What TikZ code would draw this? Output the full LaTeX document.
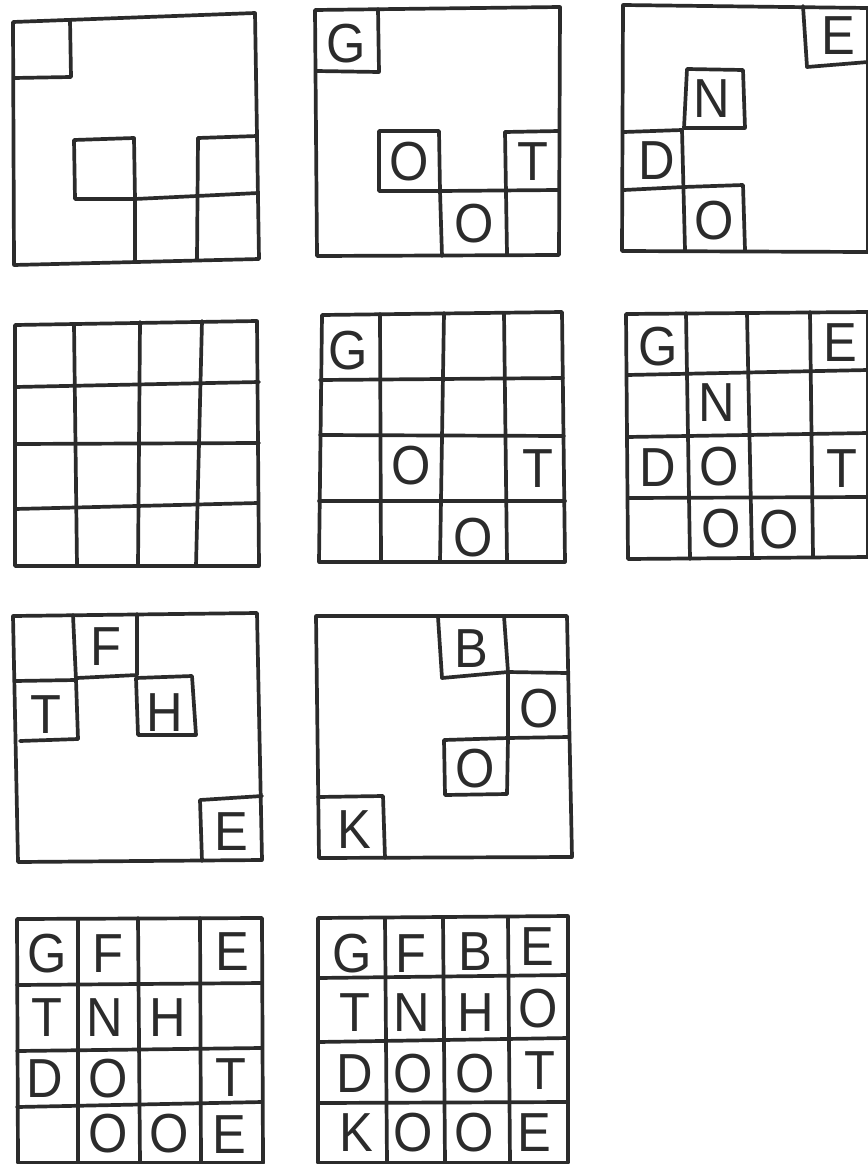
\documentclass[tikz,border=0pt]{standalone}
\usepackage{fontspec}
\setmainfont{Liberation Sans}[FakeStretch=0.92]
\definecolor{ink}{HTML}{2B2B2B}
\begin{document}
\begin{tikzpicture}[x=1pt,y=-1pt,
  gridline/.style={draw=ink,line width=3.7pt,line cap=round,line join=round},
  letter/.style={text=ink,inner sep=0pt,font=\fontsize{55}{55}\selectfont,text height=39pt,text depth=0pt,anchor=center}]
\useasboundingbox (0,0) rectangle (867,1164);

% ---------- Grid A ----------
\draw[gridline] (13,22) -- (255,13) -- (259,259) -- (14,265) -- cycle;
\draw[gridline] (70,20) -- (71,77) -- (14,78);
\draw[gridline] (74,140) -- (134,138) -- (135,199) -- (75,199) -- cycle;
\draw[gridline] (135,199) -- (135,261);
\draw[gridline] (135,199) -- (197,196) -- (258,193);
\draw[gridline] (198,138) -- (197,259);
\draw[gridline] (198,138) -- (257,136);

% ---------- Grid B ----------
\draw[gridline] (315,10) -- (560,7) -- (559,255) -- (317,256) -- cycle;
\draw[gridline] (378,9) -- (379,72) -- (316,71);
\draw[gridline] (379,131) -- (439,131) -- (440,191) -- (379,191) -- cycle;
\draw[gridline] (440,191) -- (558,190);
\draw[gridline] (440,191) -- (442,256);
\draw[gridline] (505,132) -- (507,254);
\draw[gridline] (505,132) -- (559,131);
\node[letter] (bG) at (346,43) {G};
\node[letter] (bO1) at (409,161) {O};
\node[letter] (bO2) at (474,223) {O};
\node[letter] (bT) at (533,161) {T};

% ---------- Grid C ----------
\draw[gridline] (623,5) -- (868,8) -- (868,252) -- (622,251) -- cycle;
\draw[gridline] (803,6) -- (807,67) -- (868,62);
\draw[gridline] (687,69) -- (743,70) -- (745,128) -- (684,128) -- cycle;
\draw[gridline] (624,132) -- (682,130) -- (685,250);
\draw[gridline] (624,190) -- (684,187) -- (743,185) -- (745,250);
\node[letter] (cE) at (838,35) {E};
\node[letter] (cN) at (712,98) {N};
\node[letter] (cD) at (657,160) {D};
\node[letter] (cO) at (714,220) {O};

% ---------- Grid D ----------
\draw[gridline] (15,325) -- (257,321) -- (259,566) -- (15,566) -- cycle;
\draw[gridline] (74,324) -- (77,566);
\draw[gridline] (140,322) -- (138,566);
\draw[gridline] (202,321) -- (196,566);
\draw[gridline] (15,387) -- (259,382);
\draw[gridline] (15,444) -- (259,443);
\draw[gridline] (15,509) -- (258,503);

% ---------- Grid E ----------
\draw[gridline] (322,315) -- (562,312) -- (565,562) -- (319,562) -- cycle;
\draw[gridline] (380,314) -- (381,562);
\draw[gridline] (444,313) -- (440,562);
\draw[gridline] (504,313) -- (507,562);
\draw[gridline] (320,380) -- (563,378);
\draw[gridline] (320,435) -- (564,436);
\draw[gridline] (319,501) -- (565,501);
\node[letter] (eG) at (348,350) {G};
\node[letter] (eO1) at (411,465) {O};
\node[letter] (eT) at (538,468) {T};
\node[letter] (eO2) at (473,537) {O};

% ---------- Grid F ----------
\draw[gridline] (626,314) -- (868,312) -- (868,557) -- (628,559) -- cycle;
\draw[gridline] (686,313) -- (690,559);
\draw[gridline] (747,313) -- (752,558);
\draw[gridline] (810,312) -- (813,557);
\draw[gridline] (627,375) -- (868,370);
\draw[gridline] (627,437) -- (868,433);
\draw[gridline] (628,498) -- (868,497);
\node[letter] (fG) at (658,346) {G};
\node[letter] (fE) at (840,342) {E};
\node[letter] (fN) at (717,402) {N};
\node[letter] (fD) at (658,467) {D};
\node[letter] (fO1) at (719,466) {O};
\node[letter] (fT) at (842,468) {T};
\node[letter] (fO2) at (721,528) {O};
\node[letter] (fO3) at (779,529) {O};

% ---------- Grid G ----------
\draw[gridline] (13,616) -- (257,613) -- (262,860) -- (18,862) -- cycle;
\draw[gridline] (15,681) -- (76,680);
\draw[gridline] (73,615) -- (76,680) -- (78,739);
\draw[gridline] (20,741) -- (78,739);
\draw[gridline] (137,614) -- (137,675) -- (77,678);
\draw[gridline] (136,678) -- (192,676) -- (196,735) -- (138,735) -- cycle;
\draw[gridline] (262,796) -- (200,800) -- (202,861);
\node[letter] (gF) at (106,646) {F};
\node[letter] (gT) at (46,714) {T};
\node[letter] (gH) at (165,712) {H};
\node[letter] (gE) at (231,831) {E};

% ---------- Grid H ----------
\draw[gridline] (316,616) -- (567,616) -- (572,857) -- (319,858) -- cycle;
\draw[gridline] (438,617) -- (442,678) -- (508,672) -- (567,673);
\draw[gridline] (504,616) -- (508,672) -- (508,738) -- (507,794);
\draw[gridline] (508,738) -- (568,737);
\draw[gridline] (508,738) -- (444,740) -- (445,795) -- (507,794);
\draw[gridline] (318,797) -- (383,796) -- (385,858);
\node[letter] (hB) at (471,648) {B};
\node[letter] (hO1) at (539,708) {O};
\node[letter] (hO2) at (475,768) {O};
\node[letter] (hK) at (354,829) {K};

% ---------- Grid I ----------
\draw[gridline] (17,919) -- (262,918) -- (263,1163) -- (18,1163) -- cycle;
\draw[gridline] (78,919) -- (78,1163);
\draw[gridline] (138,918) -- (140,1163);
\draw[gridline] (200,918) -- (201,1163);
\draw[gridline] (17,985) -- (262,983);
\draw[gridline] (17,1051) -- (261,1048);
\draw[gridline] (17,1107) -- (262,1102);
\node[letter] (iG) at (47,953) {G};
\node[letter] (iF) at (108,953) {F};
\node[letter] (iE1) at (232,951) {E};
\node[letter] (iT1) at (47,1017) {T};
\node[letter] (iN) at (105,1017) {N};
\node[letter] (iH) at (168,1017) {H};
\node[letter] (iD) at (45,1078) {D};
\node[letter] (iO1) at (108,1078) {O};
\node[letter] (iT2) at (231,1077) {T};
\node[letter] (iO2) at (108,1133) {O};
\node[letter] (iO3) at (169,1133) {O};
\node[letter] (iE2) at (229,1134) {E};

% ---------- Grid J ----------
\draw[gridline] (318,918) -- (568,916) -- (568,1163) -- (318,1163) -- cycle;
\draw[gridline] (385,918) -- (387,1163);
\draw[gridline] (443,917) -- (445,1163);
\draw[gridline] (508,917) -- (510,1163);
\draw[gridline] (318,978) -- (568,975);
\draw[gridline] (318,1042) -- (568,1038);
\draw[gridline] (318,1103) -- (568,1102);
\node[letter] (jG) at (352,953) {G};
\node[letter] (jF) at (411,953) {F};
\node[letter] (jB) at (475,951) {B};
\node[letter] (jE1) at (537,946) {E};
\node[letter] (jT1) at (355,1012) {T};
\node[letter] (jN) at (412,1012) {N};
\node[letter] (jH) at (476,1012) {H};
\node[letter] (jO1) at (538,1008) {O};
\node[letter] (jD) at (355,1073) {D};
\node[letter] (jO2) at (413,1073) {O};
\node[letter] (jO3) at (475,1073) {O};
\node[letter] (jT2) at (540,1070) {T};
\node[letter] (jK) at (356,1132) {K};
\node[letter] (jO4) at (413,1132) {O};
\node[letter] (jO5) at (474,1132) {O};
\node[letter] (jE2) at (534,1132) {E};
\end{tikzpicture}
\end{document}
